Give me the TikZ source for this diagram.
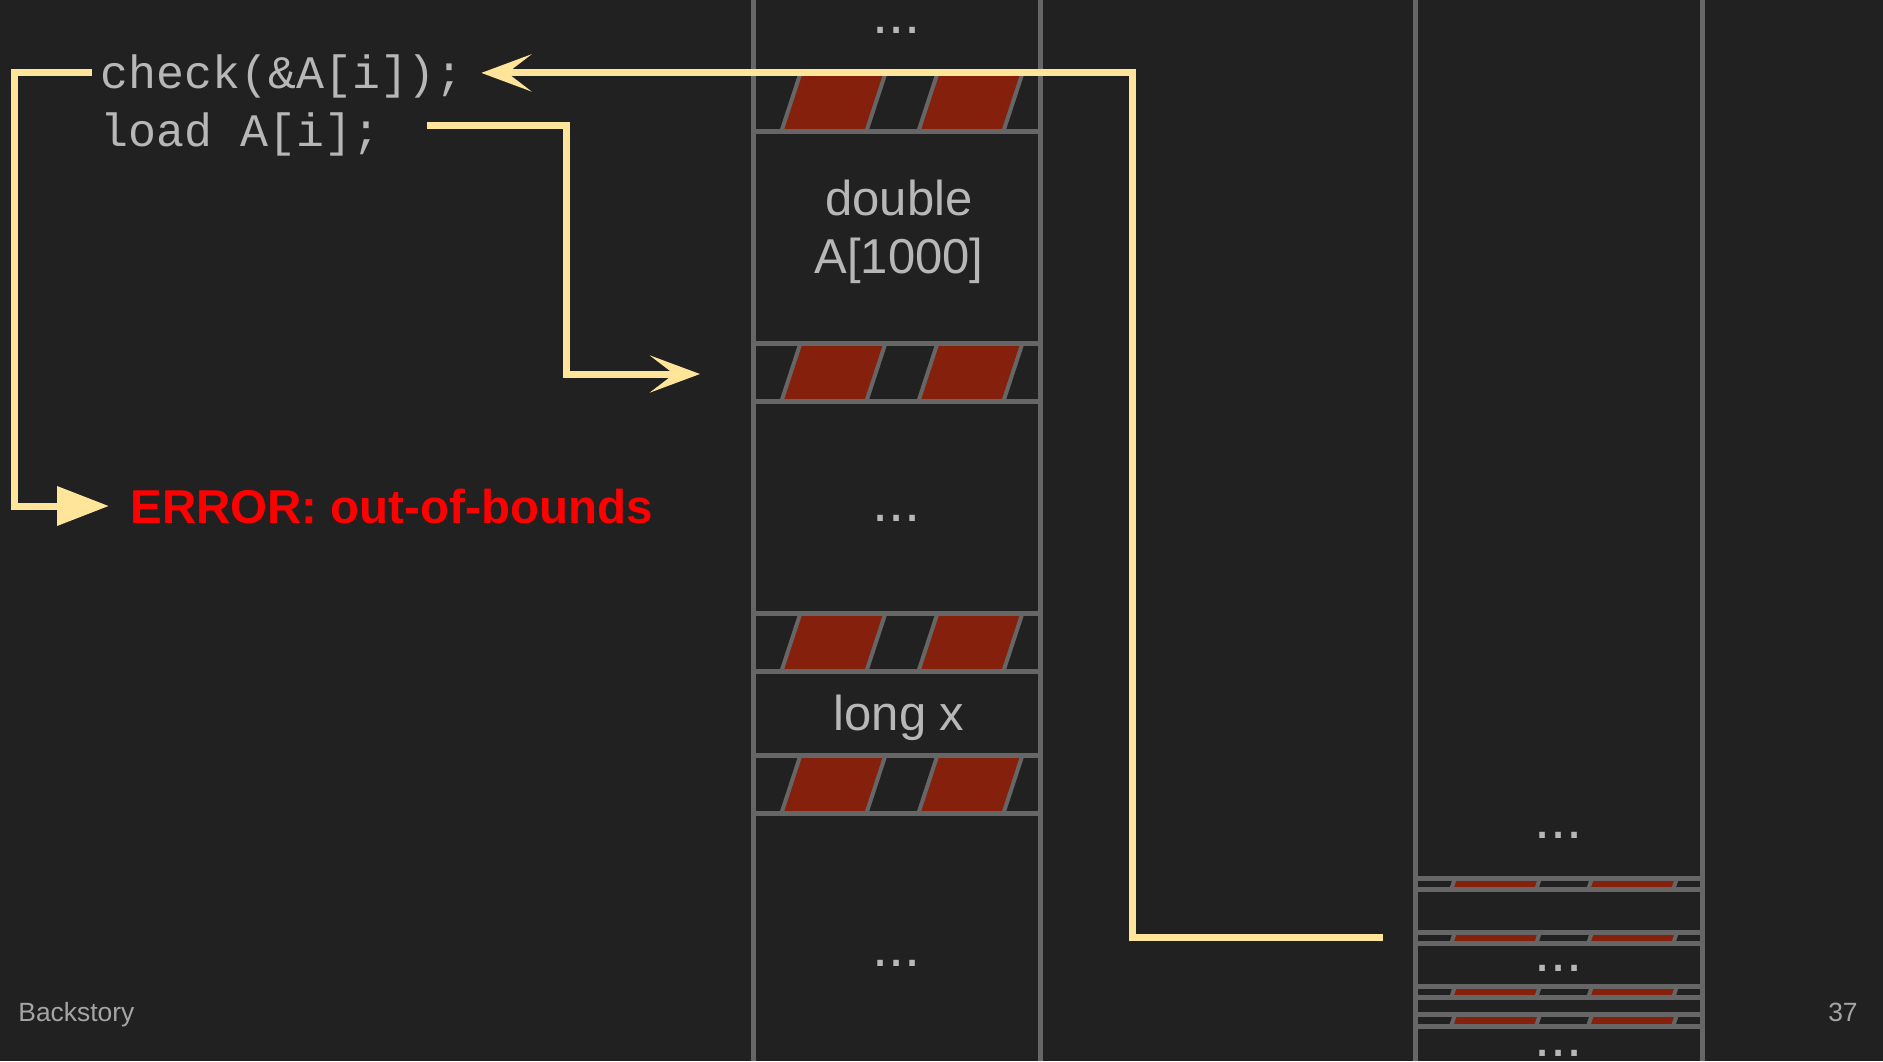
\documentclass[tikz,border=0pt]{standalone}
\usepackage{fontspec}
\setmainfont{Liberation Sans}
\newfontfamily\codefont{Liberation Mono}
\usetikzlibrary{arrows.meta}

\definecolor{slidebg}{HTML}{212121}
\definecolor{colgray}{HTML}{666666}
\definecolor{stripered}{HTML}{85200C}
\definecolor{hlyellow}{HTML}{FFE599}
\definecolor{txtgray}{HTML}{B7B7B7}
\definecolor{footgray}{HTML}{A5A5A5}
\definecolor{errred}{HTML}{FF0000}

\tikzset{
  rule/.style={draw=colgray, line width=2.5pt},
  stripe/.style={fill=stripered, draw=colgray, line width=2pt},
  hl/.style={draw=hlyellow, line width=3.5pt},
  code/.style={text=txtgray, inner sep=0pt, anchor=base west,
    text height=18.7pt, text depth=3pt,
    font={\codefont\fontsize{23.3}{28}\selectfont}},
  cell/.style={text=txtgray, inner sep=0pt, align=center,
    font={\fontsize{24.5}{29}\selectfont}},
  dots/.style={text=txtgray, inner sep=0pt, anchor=base,
    font={\fontsize{29}{30}\selectfont}},
  foot/.style={text=footgray, inner sep=0pt,
    font={\fontsize{13.2}{15}\selectfont}},
}

% guard band: #1 left edge, #2 top, #3 bottom
\newcommand{\band}[3]{%
  \begin{scope}
    \clip (#1,#2) rectangle (#1+\colW,#3);
    \foreach \a in {38,175}
      \filldraw[stripe] ({#1+\a-0.164*(#3-#2)},#3) -- ++(85,0)
        -- ({#1+\a+85+0.164*(#3-#2)},#2) -- ({#1+\a+0.164*(#3-#2)},#2) -- cycle;
  \end{scope}
  \draw[rule] (#1,#2) -- (#1+\colW,#2) (#1,#3) -- (#1+\colW,#3);
}

\begin{document}
\begin{tikzpicture}[x=0.5pt, y=-0.5pt]
  %--- layout parameters (pixels, y downwards)
  \def\W{1883}
  \def\H{1061}
  \def\colA{753}    % left edge of the stack
  \def\colB{1415}   % left edge of the zoomed-out stack
  \def\colW{287}    % width of both stacks

  %--- background
  \fill[slidebg] (0,0) rectangle (\W,\H);
  \useasboundingbox (0,0) rectangle (\W,\H);

  %--- guard bands, full size on the left, squeezed by 0.2 on the right
  \foreach \t/\b in {73/131, 343/401, 613/671, 755/813}{
    \band{\colA}{\t}{\b}
    \pgfmathsetmacro{\rt}{884+0.2*(\t-102)}
    \pgfmathsetmacro{\rb}{884+0.2*(\b-102)}
    \band{\colB}{\rt}{\rb}
  }

  %--- stack walls
  \foreach \x in {\colA, \colB}{
    \draw[rule] (\x,0) -- (\x,\H);
    \draw[rule] (\x+\colW,0) -- (\x+\colW,\H);
  }

  %--- cell contents
  \node[cell] (arr) at (899,231.5) {double\\A[1000]};
  \node[cell, anchor=base] (lng) at (899,730) {long x};
  \foreach \x/\y [count=\k] in {896.5/33, 896.5/521.5, 896.5/966.5,
                                1558.5/838.5, 1558.5/971.5, 1558.5/1056.5}
    \node[dots] (dots\k) at (\x,\y) {...};

  %--- code and error message
  \node[code] (check) at (100,88.6) {check(\&A[i]);};
  \node[code] (load) at (100,146) {load A[i];};
  \node[text=errred, inner sep=0pt, anchor=base west, text height=17pt, text depth=0pt,
        font={\bfseries\fontsize{23.75}{28}\selectfont}] (err) at (130,523) {ERROR: out-of-bounds};

  %--- footer
  \node[foot, anchor=base west] (title) at (18,1021) {Backstory};
  \node[foot, anchor=base east] (page) at (1858,1021) {37};

  %--- arrows
  \coordinate (ret) at (1383,937);
  \coordinate (slot) at (700,374);
  \draw[hl, -{Stealth[length=25pt, width=18.5pt, inset=12pt]}]
    (ret) -- ++(-251,0) |- ([xshift=8.5pt]check.east);
  \draw[hl, -{Stealth[length=25pt, width=18.5pt, inset=12pt]}]
    ([xshift=23.5pt, yshift=2.6pt]load.east) -- ++(139,0) |- (slot);
  \draw[hl, -{Triangle[length=26pt, width=19pt]}]
    ([xshift=-4pt]check.west) -- ++(-78,0) |- ([xshift=-10.5pt]err.west);
\end{tikzpicture}
\end{document}
